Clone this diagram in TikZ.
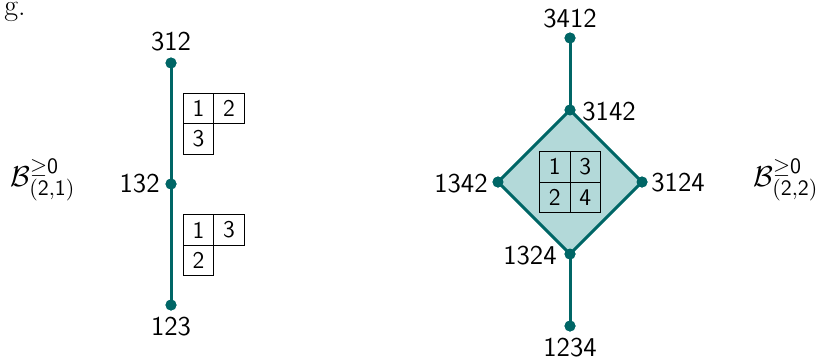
\documentclass[tikz,border=0pt]{standalone}
\usetikzlibrary{positioning}
\definecolor{edgeteal}{RGB}{0,102,102}
\definecolor{faceteal}{RGB}{179,217,217}
\begin{document}
\begin{tikzpicture}[x=0.5pt,y=-0.5pt,
  vertex/.style={circle,fill=edgeteal,inner sep=0pt,minimum size=5.5pt},
  edge/.style={draw=edgeteal,line width=1.5pt},
  perm/.style={inner sep=0pt,font=\fontsize{13.6}{16}\sffamily},
  cell/.style={draw,line width=0.5pt,minimum size=15.3pt,inner sep=0pt,
    font=\fontsize{12}{14}\sffamily},
  setlabel/.style={inner sep=0pt,anchor=west,font=\fontsize{15}{18}\selectfont}]
\useasboundingbox (0,0) rectangle (818,360);

% trailing text from the line above
\node[anchor=base west,inner sep=0pt,font=\fontsize{15}{18}\rmfamily] (tail) at (4,15) {g.};

% --- left: the segment for shape (2,1)
\node[vertex] (v312) at (171,63) {};
\node[vertex] (v132) at (171,184) {};
\node[vertex] (v123) at (171,305) {};
\draw[edge] (v312.center) -- (v132.center) -- (v123.center);
\node[vertex] at (v312) {};
\node[vertex] at (v132) {};
\node[vertex] at (v123) {};

\node[perm] (l312) at (171,42) {312};
\node[perm,anchor=east] (l132) at (160,184) {132};
\node[perm] (l123) at (171,327) {123};

% tableaux on the edges
\node[cell] (a11) at (198.5,108.3) {1};
\node[cell] (a12) at (229.1,108.3) {2};
\node[cell] (a21) at (198.5,138.9) {3};
\node[cell] (b11) at (198.5,230) {1};
\node[cell] (b12) at (229.1,230) {3};
\node[cell] (b21) at (198.5,260.6) {2};

\node[setlabel] (Bleft) at (10,180) {$\mathcal{B}^{\geq\mathsf{0}}_{\mathsf{(2,1)}}$};

% --- right: the complex for shape (2,2)
\node[vertex] (v3412) at (570,38) {};
\node[vertex] (v3142) at (570,110) {};
\node[vertex] (v1342) at (498,182) {};
\node[vertex] (v3124) at (642,182) {};
\node[vertex] (v1324) at (570,254) {};
\node[vertex] (v1234) at (570,326) {};

\filldraw[fill=faceteal,draw=edgeteal,line width=1.5pt,line join=round]
  (v3142.center) -- (v3124.center) -- (v1324.center) -- (v1342.center) -- cycle;
\draw[edge] (v3412.center) -- (v3142.center);
\draw[edge] (v1324.center) -- (v1234.center);
\foreach \v in {v3412,v3142,v1342,v3124,v1324,v1234}
  \node[vertex] at (\v) {};

\node[perm] (l3412) at (570,19) {3412};
\node[perm,anchor=west] (l3142) at (582,112) {3142};
\node[perm,anchor=east] (l1342) at (488,184) {1342};
\node[perm,anchor=west] (l3124) at (651,183) {3124};
\node[perm,anchor=east] (l1324) at (557,256) {1324};
\node[perm] (l1234) at (570,348) {1234};

\node[cell] (c11) at (554.7,166.7) {1};
\node[cell] (c12) at (585.3,166.7) {3};
\node[cell] (c21) at (554.7,197.3) {2};
\node[cell] (c22) at (585.3,197.3) {4};

\node[setlabel] (Bright) at (753,180) {$\mathcal{B}^{\geq\mathsf{0}}_{\mathsf{(2,2)}}$};
\end{tikzpicture}
\end{document}
